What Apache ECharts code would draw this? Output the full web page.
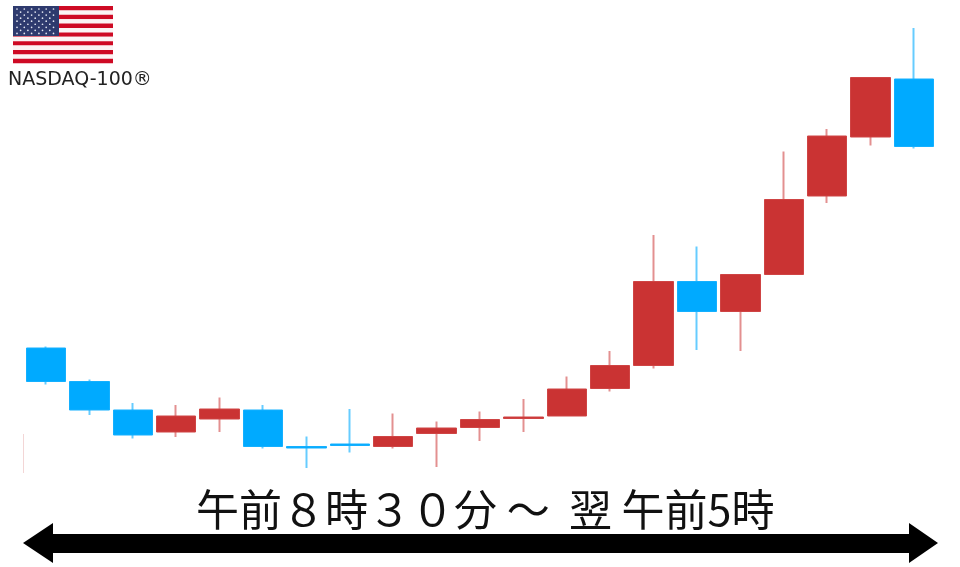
<!doctype html>
<html lang="ja">
<head>
<meta charset="UTF-8">
<title>NASDAQ-100</title>
<style>
  html, body { margin: 0; padding: 0; background: #fff; }
  #main { width: 960px; height: 567px; }
</style>
<script src="https://cdn.jsdelivr.net/npm/echarts@6/dist/echarts.min.js"></script>
</head>
<body>
<div id="main"></div>
<script>
var opens  = [219, 185.5, 157, 135, 148, 157, 120.5, 123, 120.5, 133.5, 139.5, 148.5, 151, 178.5, 201.5, 285.5, 255.5, 292.5, 371, 430, 488];
var closes = [185.5, 157, 132, 151, 158, 120.5, 119, 121.5, 130.5, 139, 147.5, 150, 178, 201.5, 285.5, 255.5, 292.5, 367.5, 431, 489.5, 420.5];
var lows   = [182.5, 152, 128.5, 130, 135, 118.5, 99, 114.5, 118.5, 100, 126, 135, 151, 175.5, 198.5, 217, 216, 292.5, 364, 421.5, 418.5];
var highs  = [220.5, 187.5, 164, 162, 169.5, 162, 130.5, 158, 153.5, 145.5, 155.5, 168, 190.5, 216, 332, 320.5, 292.5, 415.5, 438, 489.5, 539];
var slots  = ['1', '2', '3', '4', '5', '6', '7', '8', '9', '10', '11', '12', '13', '14', '15', '16', '17', '18', '19', '20', '21'];

var wickData = [], bodyData = [];
for (var i = 0; i < slots.length; i++) {
    wickData.push([opens[i], closes[i], lows[i], highs[i]]);
    bodyData.push([opens[i], closes[i], Math.min(opens[i], closes[i]), Math.max(opens[i], closes[i])]);
}

// flag, top left
var flag = [];
for (var s = 0; s < 13; s++) {
    flag.push({
        type: 'rect',
        shape: { x: 13, y: 6 + s * 4.4, width: 100, height: 4.4 },
        style: { fill: s % 2 == 0 ? '#CE0A24' : '#FBF4F4' }
    });
}
flag.push({ type: 'rect', shape: { x: 13, y: 6, width: 46, height: 30 }, style: { fill: '#2E3A6E' } });
for (var r = 0; r < 9; r++) {
    var n = r % 2 == 0 ? 6 : 5;
    for (var c = 0; c < n; c++) {
        flag.push({
            type: 'circle',
            shape: { cx: 17 + (r % 2 == 0 ? 0 : 3.6) + c * 7.3, cy: 9 + r * 3.05, r: 0.85 },
            style: { fill: '#E4E7F2' }
        });
    }
}

var myChart = echarts.init(document.getElementById('main'), null, { renderer: 'canvas' });
var option = {
    animation: false,
    backgroundColor: '#fff',
    grid: { left: 24.3, width: 911.4, top: 0, height: 567 },
    xAxis: { type: 'category', data: slots, show: false },
    yAxis: { type: 'value', min: 0, max: 567, show: false },
    series: [
        {
            // wicks only, the narrow box stays hidden behind the body series
            type: 'candlestick',
            data: wickData,
            barWidth: 1,
            silent: true,
            itemStyle: {
                color: '#E39090', color0: '#66CCFF',
                borderColor: '#E39090', borderColor0: '#66CCFF',
                borderWidth: 2
            }
        },
        {
            type: 'candlestick',
            data: bodyData,
            barWidth: 40,
            silent: true,
            itemStyle: {
                color: '#CA3333', color0: '#00AAFF',
                borderColor: '#CF4444', borderColor0: '#14B0FF',
                borderWidth: 1
            }
        }
    ],
    graphic: flag.concat([
        {
            type: 'text', left: 8, top: 71,
            style: { text: 'NASDAQ-100®', font: '19px "DejaVu Sans"', fill: '#222' }
        },
        {
            type: 'text', left: 196, top: 488,
            style: { text: '午前８時３０分 ～  翌 午前5時', font: '43px "Noto Sans CJK JP"', fill: '#111' }
        },
        // double arrow under the time range
        {
            type: 'polygon',
            shape: { points: [[23, 543], [53, 523], [53, 534], [909, 534], [909, 523], [938, 543], [909, 563], [909, 553], [53, 553], [53, 563]] },
            style: { fill: '#000' }
        },
        // faint line at the left edge
        {
            type: 'line',
            shape: { x1: 23.5, y1: 434, x2: 23.5, y2: 473 },
            style: { stroke: '#F3D6D6', lineWidth: 1 }
        }
    ])
};
myChart.setOption(option);
</script>
</body>
</html>
